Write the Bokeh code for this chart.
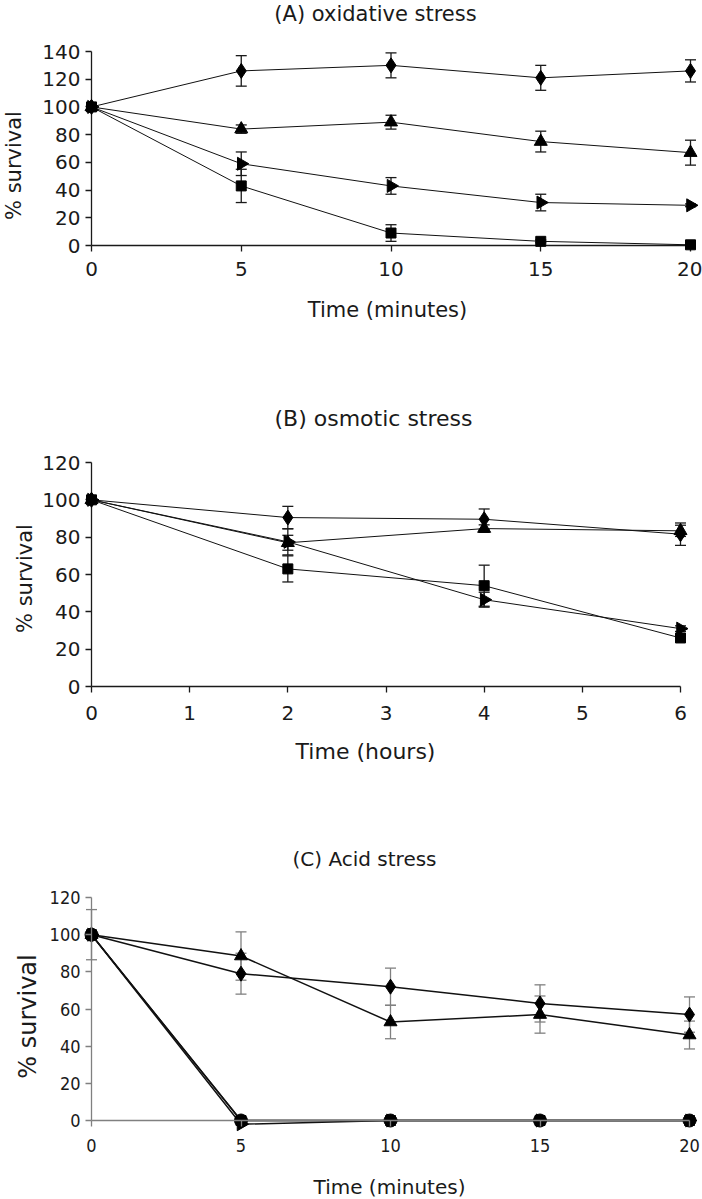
import numpy as np
from bokeh.plotting import figure
from bokeh.models import Range1d, FixedTicker
from bokeh.core.properties import value
from bokeh.layouts import column
from bokeh.embed import file_html
from bokeh.resources import INLINE

# ---------------- data ----------------
# Panel A: oxidative stress (minutes)
a_time = [0, 5, 10, 15, 20]
a_diamond = [100, 126, 130, 121, 126]
a_diamond_err = [0, 11, 9, 9, 8]
a_triangle = [100, 84, 89, 75, 67]
a_triangle_err = [0, 3, 5, 7.5, 9]
a_right = [100, 59, 43, 31, 29]
a_right_err = [0, 8.5, 6, 6, 1]
a_square = [100, 43, 9, 3, 0.5]
a_square_err = [0, 12, 6, 1, 0.5]

# Panel B: osmotic stress (hours)
b_time = [0, 2, 4, 6]
b_diamond = [100, 90.5, 89.6, 81.6]
b_diamond_err = [0, 6, 5.5, 6]
b_triangle = [100, 77, 84.6, 83.4]
b_triangle_err = [0, 4, 2, 3]
b_right = [100, 77.5, 46.5, 31]
b_right_err = [0, 7, 4, 1.5]
b_square = [100, 63, 54, 26]
b_square_err = [0, 7, 11, 1.5]

# Panel C: acid stress (minutes)
c_time = [0, 5, 10, 15, 20]
c_diamond = [100, 79, 72, 63, 57]
c_diamond_err = [13.5, 11, 10, 10, 9.5]
c_triangle = [100, 88.5, 53, 57, 46]
c_triangle_err = [0, 13, 9, 10, 7.5]
c_square = [100, 0, 0, 0, 0]
c_right = [100, -2, 0, 0, 0]
c_circle = [100, 0, 0, 0, 0]

a_xticks = [0, 5, 10, 15, 20]
a_yticks = [0, 20, 40, 60, 80, 100, 120, 140]
b_xticks = [0, 1, 2, 3, 4, 5, 6]
b_yticks = [0, 20, 40, 60, 80, 100, 120]
c_xticks = [0, 5, 10, 15, 20]
c_yticks = [0, 20, 40, 60, 80, 100, 120]

# ---------------- styling / layout ----------------
NORMAL = "DejaVu Sans"
COND = "'DejaVu Sans Condensed', 'Liberation Sans Narrow', 'DejaVu Sans'"
W = 702
FRAME_L, FRAME_R = 91, 690     # shared frame edges (page px)
TXT = "#1a1a1a"


def make_panel(cfg, series):
    ft, fb = cfg["frame_tb"]
    ctop, cbot = cfg["canvas"]
    xmax, ymax = cfg["xmax"], cfg["ymax"]
    sx = (cfg["xmax_px"] - FRAME_L) / xmax
    sy = (fb - ft) / ymax
    x_end = (FRAME_R - FRAME_L) / sx

    p = figure(width=W, height=cbot - ctop,
               x_range=Range1d(0, x_end), y_range=Range1d(0, ymax),
               output_backend="svg", toolbar_location=None,
               min_border_left=FRAME_L, min_border_right=W - FRAME_R,
               min_border_top=ft - ctop, min_border_bottom=cbot - fb)
    p.outline_line_color = None
    p.grid.visible = False
    p.background_fill_color = "white"
    p.border_fill_color = "white"

    def to_data(px, py):
        return (px - FRAME_L) / sx, (fb - py) / sy

    # titles: page-pixel positions mapped through the scales
    for key, ang in (("title", 0.0), ("xlabel", 0.0), ("ylabel", np.pi / 2)):
        text, (px, py), font, size = cfg[key]
        dx, dy = to_data(px, py)
        p.text(x=[dx], y=[dy], text=[text], angle=ang,
               text_align="center", text_baseline="middle",
               text_font=value(font), text_font_size=size,
               text_color=TXT, level="overlay")

    axc = cfg["axis_color"]
    for ax, ticks, bounds, tst in (
        (p.xaxis[0], cfg["xticks"], (0, xmax), cfg["xtick_standoff"]),
        (p.yaxis[0], cfg["yticks"], (0, ymax), 5),
    ):
        ax.ticker = FixedTicker(ticks=ticks)
        ax.bounds = bounds
        ax.minor_tick_line_color = None
        ax.axis_line_color = axc
        ax.major_tick_line_color = axc
        ax.axis_line_width = 1.3
        ax.major_tick_line_width = 1.3
        ax.major_tick_out = 6
        ax.major_tick_in = 0
        ax.major_label_text_font = cfg["tick_font"]
        ax.major_label_text_font_size = cfg["tick_size"]
        ax.major_label_text_color = TXT
        ax.major_label_standoff = tst
        if cfg.get("axis_on_top"):
            ax.level = "overlay"

    lw = cfg["line_width"]
    LV = "annotation"   # drawn without the frame clip so edge markers stay whole
    for s in series:
        p.line(s["x"], s["y"], line_color="#111111", line_width=lw, level=LV)
    for s in series:
        err = s.get("err")
        if err is None:
            continue
        xs = [xv for xv, e in zip(s["x"], err) if e > 0]
        lo = [yv - e for yv, e in zip(s["y"], err) if e > 0]
        hi = [yv + e for yv, e in zip(s["y"], err) if e > 0]
        p.segment(xs, lo, xs, hi, line_color=cfg["err_color"], line_width=1.3, level=LV)
        p.scatter(xs + xs, lo + hi, marker="dash", size=11,
                  line_color=cfg["err_color"], line_width=1.3, level=LV)
    for s in series:
        p.scatter(s["x"], s["y"], marker=s["marker"], size=s["size"],
                  angle=s.get("angle", 0.0), fill_color="black",
                  line_color="black", line_width=1, level=LV)
    return p


RIGHT = -np.pi / 2

cfg_a = dict(xmax=20, xmax_px=690, ymax=140, frame_tb=(51, 245), canvas=(0, 340),
             title=("(A) oxidative stress", (375, 13), NORMAL, "21px"),
             xlabel=("Time (minutes)", (387, 309), NORMAL, "21px"),
             ylabel=("% survival", (13, 165), NORMAL, "21px"),
             xticks=a_xticks, yticks=a_yticks,
             tick_font=NORMAL, tick_size="20px", xtick_standoff=10,
             axis_color=TXT, err_color=TXT, line_width=1)
series_a = [
    dict(x=a_time, y=a_diamond, err=a_diamond_err, marker="diamond", size=15),
    dict(x=a_time, y=a_triangle, err=a_triangle_err, marker="triangle", size=13),
    dict(x=a_time, y=a_right, err=a_right_err, marker="triangle", size=13, angle=RIGHT),
    dict(x=a_time, y=a_square, err=a_square_err, marker="square", size=10),
]

cfg_b = dict(xmax=6, xmax_px=680, ymax=120, frame_tb=(462, 686), canvas=(340, 772),
             title=("(B) osmotic stress", (373, 418), NORMAL, "22px"),
             xlabel=("Time (hours)", (365, 751), NORMAL, "22px"),
             ylabel=("% survival", (24, 578), NORMAL, "21px"),
             xticks=b_xticks, yticks=b_yticks,
             tick_font=NORMAL, tick_size="20px", xtick_standoff=13,
             axis_color=TXT, err_color=TXT, line_width=1)
series_b = [
    dict(x=b_time, y=b_diamond, err=b_diamond_err, marker="diamond", size=15),
    dict(x=b_time, y=b_triangle, err=b_triangle_err, marker="triangle", size=13),
    dict(x=b_time, y=b_right, err=b_right_err, marker="triangle", size=13, angle=RIGHT),
    dict(x=b_time, y=b_square, err=b_square_err, marker="square", size=10),
]

cfg_c = dict(xmax=20, xmax_px=689, ymax=120, frame_tb=(897, 1120), canvas=(772, 1199),
             title=("(C) Acid stress", (364, 858), NORMAL, "20px"),
             xlabel=("Time (minutes)", (389, 1186), NORMAL, "20px"),
             ylabel=("% survival", (27, 1016), NORMAL, "24px"),
             xticks=c_xticks, yticks=c_yticks,
             tick_font=COND, tick_size="18px", xtick_standoff=12,
             axis_color="#808080", err_color="#808080", line_width=1.5,
             axis_on_top=True)
series_c = [
    dict(x=c_time, y=c_square, marker="square", size=10),
    dict(x=c_time, y=c_right, marker="triangle", size=13, angle=RIGHT),
    dict(x=c_time, y=c_triangle, err=c_triangle_err, marker="triangle", size=13),
    dict(x=c_time, y=c_diamond, err=c_diamond_err, marker="diamond", size=15),
    dict(x=c_time, y=c_circle, marker="circle", size=13),
]

pa = make_panel(cfg_a, series_a)
pb = make_panel(cfg_b, series_b)
pc = make_panel(cfg_c, series_c)

layout = column(pa, pb, pc, spacing=0)
open("out.html", "w").write(file_html(layout, INLINE))
